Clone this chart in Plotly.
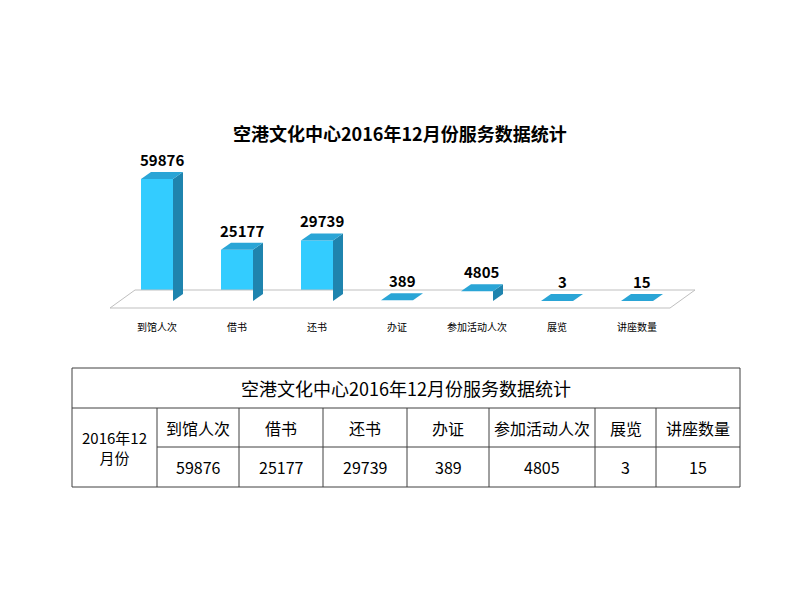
import plotly.graph_objects as go

categories = ["到馆人次", "借书", "还书", "办证", "参加活动人次", "展览", "讲座数量"]
values = [59876, 25177, 29739, 389, 4805, 3, 15]
title = "空港文化中心2016年12月份服务数据统计"
row_label = "2016年12<br>月份"

FONT = "Noto Sans CJK SC"
W, H = 800, 600
OFF = 8
x0p, x1p = 100, 700
def xi(p): return (p - 157) / 80.0
ppv = 59876 / 122.0
ytop, ybot = 160, 320
def yv(p): return (301 - p) * ppv

bw = 0.4
dx = 0.125
dy = 7 * ppv
front, side, top = "#33CCFF", "#1F84AE", "#2AA5D6"

fig = go.Figure()
fx = [xi(110), xi(670), xi(695), xi(135), xi(110)]
fy = [yv(308), yv(308), yv(290), yv(290), yv(308)]
fig.add_trace(go.Scatter(x=fx, y=fy, fill="toself", fillcolor="white", mode="lines",
                         line=dict(color="#BFBFBF", width=1), hoverinfo="skip", showlegend=False))
xs = list(range(len(values)))
for i, v in zip(xs, values):
    l, r = i - bw / 2, i + bw / 2
    fig.add_trace(go.Scatter(x=[r, r + dx, r + dx, r, r], y=[0, dy, v + dy, v, 0], fill="toself",
                             fillcolor=side, mode="lines", line=dict(width=0), hoverinfo="skip", showlegend=False))
    fig.add_trace(go.Scatter(x=[l, r, r + dx, l + dx, l], y=[v, v, v + dy, v + dy, v], fill="toself",
                             fillcolor=top, mode="lines", line=dict(width=0), hoverinfo="skip", showlegend=False))
fig.add_trace(go.Bar(x=xs, y=values, width=bw, marker=dict(color=front, line=dict(width=0)), showlegend=False))
for i, v in zip(xs, values):
    fig.add_annotation(x=i + dx / 2, y=v + dy, text="<b>%d</b>" % v, showarrow=False, yanchor="bottom",
                       xanchor="center", font=dict(family=FONT, size=15, color="black"))
fig.update_layout(
    width=W, height=H, margin=dict(l=0, r=0, t=0, b=0), paper_bgcolor="white", plot_bgcolor="rgba(0,0,0,0)",
    barmode="overlay",
    xaxis=dict(domain=[(x0p - OFF) / W, (x1p - OFF) / W], range=[xi(x0p), xi(x1p)], showgrid=False, zeroline=False,
               tickvals=xs, ticktext=categories, ticks="", tickfont=dict(family=FONT, size=10, color="black"),
               showline=False),
    yaxis=dict(domain=[1 - (ybot - OFF) / H, 1 - (ytop - OFF) / H], range=[yv(ybot), yv(ytop)], visible=False),
    font=dict(family=FONT),
)
def px(x): return (x - OFF) / W
def py(y): return 1 - (y - OFF) / H
def ann(text, x, y, size, bold=False):
    fig.add_annotation(text=("<b>%s</b>" % text) if bold else text, x=px(x), y=py(y), xref="paper", yref="paper",
                       showarrow=False, xanchor="center", yanchor="middle",
                       font=dict(family=FONT, size=size, color="black"))
ann(title, 400, 133, 18, bold=True)

L, R, T, B = 72, 740, 368, 487
r1, r2 = 408, 447
cols = [157, 239, 323, 407, 489, 595, 656]
line = dict(color="#404040", width=1)
fig.add_shape(type="rect", xref="paper", yref="paper", x0=px(L), x1=px(R), y0=py(T), y1=py(B), line=line)
fig.add_shape(type="line", xref="paper", yref="paper", x0=px(L), x1=px(R), y0=py(r1), y1=py(r1), line=line)
fig.add_shape(type="line", xref="paper", yref="paper", x0=px(cols[0]), x1=px(R), y0=py(r2), y1=py(r2), line=line)
for c in cols:
    fig.add_shape(type="line", xref="paper", yref="paper", x0=px(c), x1=px(c), y0=py(r1), y1=py(B), line=line)
ann(title, (L + R) / 2, (T + r1) / 2, 18)
ann(row_label, (L + cols[0]) / 2, (r1 + B) / 2, 15)
edges = cols + [R]
for j, (c, v) in enumerate(zip(categories, values)):
    cx = (edges[j] + edges[j + 1]) / 2
    ann(c, cx, (r1 + r2) / 2, 16)
    ann(str(v), cx, (r2 + B) / 2, 16)

fig.write_html("out.html")
